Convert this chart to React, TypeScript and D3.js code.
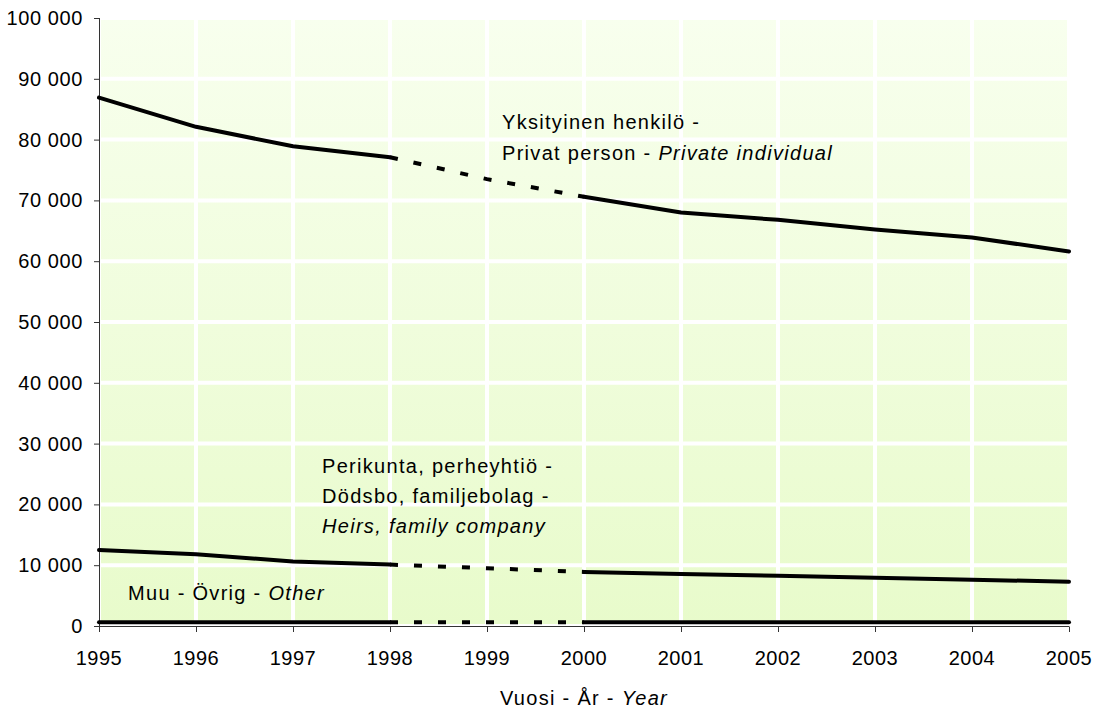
import React from "react";
import * as d3 from "d3";

const years = [1995, 1996, 1997, 1998, 1999, 2000, 2001, 2002, 2003, 2004, 2005];
const privateIndividual = [86900, 82100, 78900, 77100, 73500, 70600, 68000, 66800, 65200, 63900, 61600];
const heirsFamilyCompany = [12500, 11800, 10600, 10100, 9500, 8900, 8550, 8270, 7940, 7610, 7290];
const other = [600, 600, 600, 600, 600, 600, 600, 600, 600, 600, 600];
const dashedFrom = 1998;
const dashedTo = 2000;
const yTicks = [0, 10000, 20000, 30000, 40000, 50000, 60000, 70000, 80000, 90000, 100000];

const W = 1099;
const H = 711;
const FONT = "'Liberation Sans', Arial, sans-serif";

export default function App() {
  const x = d3.scaleLinear().domain([1995, 2005]).range([99, 1069]);
  const y = d3.scaleLinear().domain([0, 100000]).range([626, 18]);
  const line = d3
    .line<[number, number]>()
    .x((d) => x(d[0]))
    .y((d) => y(d[1]));

  const seriesList = [privateIndividual, heirsFamilyCompany, other];

  const parts = (vals: number[]) => {
    const pts: [number, number][] = years.map((yr, i) => [yr, vals[i]]);
    return {
      a: pts.filter((p) => p[0] <= dashedFrom),
      b: pts.filter((p) => p[0] >= dashedFrom && p[0] <= dashedTo),
      c: pts.filter((p) => p[0] >= dashedTo),
    };
  };

  const fmt = (v: number) => d3.format(",")(v).replace(/,/g, " ");

  return (
    <svg
      width={W}
      height={H}
      style={{ position: "absolute", left: 0, top: 0, background: "#fff" }}
      fontFamily={FONT}
    >
      <defs>
        <linearGradient id="bg" x1="0" y1="0" x2="0" y2="1">
          <stop offset="0" stopColor="#f8ffee" />
          <stop offset="1" stopColor="#e8fbcb" />
        </linearGradient>
      </defs>
      <rect x={x(1995)} y={y(100000)} width={x(2005) - x(1995)} height={y(0) - y(100000)} fill="url(#bg)" />
      {yTicks.map((t) => (
        <line key={"hg" + t} x1={x(1995)} x2={x(2005)} y1={y(t)} y2={y(t)} stroke="#fff" strokeWidth={4} />
      ))}
      {years.map((yr) => (
        <line key={"vg" + yr} x1={x(yr)} x2={x(yr)} y1={y(0)} y2={y(100000)} stroke="#fff" strokeWidth={4} />
      ))}

      {/* axes */}
      <line x1={99.5} x2={99.5} y1={y(100000)} y2={y(0)} stroke="#333" strokeWidth={1} />
      {yTicks.map((t) => (
        <g key={"yt" + t}>
          <line x1={94} x2={99.5} y1={y(t) + 0.5} y2={y(t) + 0.5} stroke="#333" strokeWidth={1} />
          <text x={83} y={y(t) + 7} textAnchor="end" fontSize={20} letterSpacing={0.6} fill="#000">
            {fmt(t)}
          </text>
        </g>
      ))}
      <line x1={x(1995)} x2={x(2005)} y1={626.5} y2={626.5} stroke="#333" strokeWidth={1} />
      {years.map((yr) => (
        <g key={"xt" + yr}>
          <line x1={x(yr) + 0.5} x2={x(yr) + 0.5} y1={626.5} y2={632} stroke="#333" strokeWidth={1} />
          <text x={x(yr)} y={665} textAnchor="middle" fontSize={20} letterSpacing={0.5} fill="#000">
            {yr}
          </text>
        </g>
      ))}

      {/* series */}
      {seriesList.map((vals, i) => {
        const p = parts(vals);
        return (
          <g key={"s" + i} fill="none" stroke="#000" strokeWidth={4}>
            <path d={line(p.a) || ""} strokeLinejoin="round" strokeLinecap="round" />
            <path d={line(p.b) || ""} strokeDasharray="8,16" strokeLinecap="butt" />
            <path d={line(p.c) || ""} strokeLinejoin="round" strokeLinecap="round" />
          </g>
        );
      })}

      {/* labels */}
      <g fontSize={20} fill="#000" letterSpacing={1.3}>
        <text x={502} y={129}>Yksityinen henkilö -</text>
        <text x={502} y={160}>
          Privat person - <tspan fontStyle="italic">Private individual</tspan>
        </text>
        <text x={322} y={473}>Perikunta, perheyhtiö -</text>
        <text x={322} y={503}>Dödsbo, familjebolag -</text>
        <text x={322} y={533} fontStyle="italic">Heirs, family company</text>
        <text x={128} y={600}>
          Muu - Övrig - <tspan fontStyle="italic">Other</tspan>
        </text>
      </g>
      <text x={584} y={705} textAnchor="middle" fontSize={20} letterSpacing={1.3} fill="#000">
        Vuosi - År - <tspan fontStyle="italic">Year</tspan>
      </text>
    </svg>
  );
}
